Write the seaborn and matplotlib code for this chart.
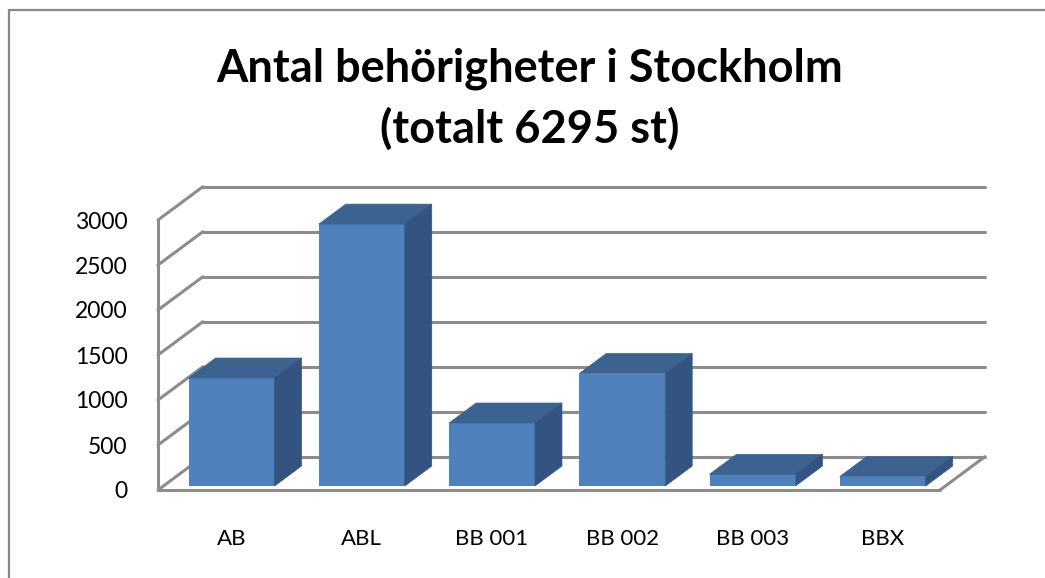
import matplotlib
matplotlib.use('Agg')
import matplotlib.pyplot as plt
from matplotlib.patches import Polygon
from matplotlib.lines import Line2D
import seaborn as sns
import pandas as pd

# Data
categories = ['AB', 'ABL', 'BB 001', 'BB 002', 'BB 003', 'BBX']
counts = [1200, 2910, 700, 1250, 130, 105]
y_ticks = [0, 500, 1000, 1500, 2000, 2500, 3000]
title = 'Antal behörigheter i Stockholm\n(totalt 6295 st)'

df = pd.DataFrame({'kategori': categories, 'antal': counts})

sns.set_theme(style='white')
plt.rcParams['font.family'] = ['Lato', 'DejaVu Sans']

W, H = 1045, 578
fig = plt.figure(figsize=(W / 100, H / 100), dpi=100)

# frame of the chart area (only top/left visible in the reference)
fig.add_artist(Line2D([8.5 / W, 8.5 / W], [0, 1 - 9.5 / H], transform=fig.transFigure,
                      color='#888888', lw=1.6))
fig.add_artist(Line2D([8.5 / W, 1], [1 - 9.5 / H, 1 - 9.5 / H], transform=fig.transFigure,
                      color='#888888', lw=1.6))

ax = fig.add_axes([158 / W, (H - 490) / H, (940 - 158) / W, (490 - 220) / H])

sns.barplot(data=df, x='kategori', y='antal', color='#4f81bd', saturation=1,
            width=0.66, linewidth=0, ax=ax, zorder=3)

ax.set_xlim(-0.565, 5.44)
ax.set_ylim(0, 3000)
ax.set_yticks(y_ticks)

# wall depth in data units, bars take part of that depth
dx, dy = 0.345, 370
bdx, bdy = dx * 0.6, dy * 0.6
lift = dy * 0.12   # bars stand a little behind the front edge
x0, x1 = ax.get_xlim()
grid_c = '#8c8c8c'

# back wall gridlines + left wall diagonals
for t in y_ticks:
    ax.plot([x0 + dx, x1 + dx], [t + dy, t + dy], color=grid_c, lw=2.2,
            clip_on=False, zorder=1)
    ax.plot([x0, x0 + dx], [t, t + dy], color=grid_c, lw=2.2,
            clip_on=False, zorder=1)
# front left edge and floor
ax.plot([x0, x0], [0, 3000], color=grid_c, lw=2.2, clip_on=False, zorder=1)
ax.plot([x0, x1], [0, 0], color=grid_c, lw=2.2, clip_on=False, zorder=1)
ax.plot([x1, x1 + dx], [0, dy], color=grid_c, lw=2.2, clip_on=False, zorder=1)

# 3D faces on the bars
for p in ax.patches:
    p.set_y(p.get_y() + lift)
    p.set_clip_on(False)
    bx, bw, bh = p.get_x(), p.get_width(), p.get_height()
    b0, b1 = lift, lift + bh
    top = Polygon([(bx, b1), (bx + bw, b1), (bx + bw + bdx, b1 + bdy), (bx + bdx, b1 + bdy)],
                  closed=True, facecolor='#3c6390', edgecolor='#3c6390', lw=0.5,
                  clip_on=False, zorder=4)
    side = Polygon([(bx + bw, b0), (bx + bw + bdx, b0 + bdy), (bx + bw + bdx, b1 + bdy), (bx + bw, b1)],
                   closed=True, facecolor='#335480', edgecolor='#335480', lw=0.5,
                   clip_on=False, zorder=4)
    ax.add_patch(top)
    ax.add_patch(side)

for s in ax.spines.values():
    s.set_visible(False)
ax.set_xlabel('')
ax.set_ylabel('')
ax.tick_params(axis='y', labelsize=16.5, pad=22, length=0, labelcolor='black')
ax.tick_params(axis='x', labelsize=16, pad=28, length=0, labelcolor='black')

fig.text(0.507, 1 - 99 / H, title, ha='center', va='center', fontsize=32.5,
         fontweight='bold', linespacing=1.5, color='black')

fig.savefig('out.png', dpi=100, facecolor='white')
